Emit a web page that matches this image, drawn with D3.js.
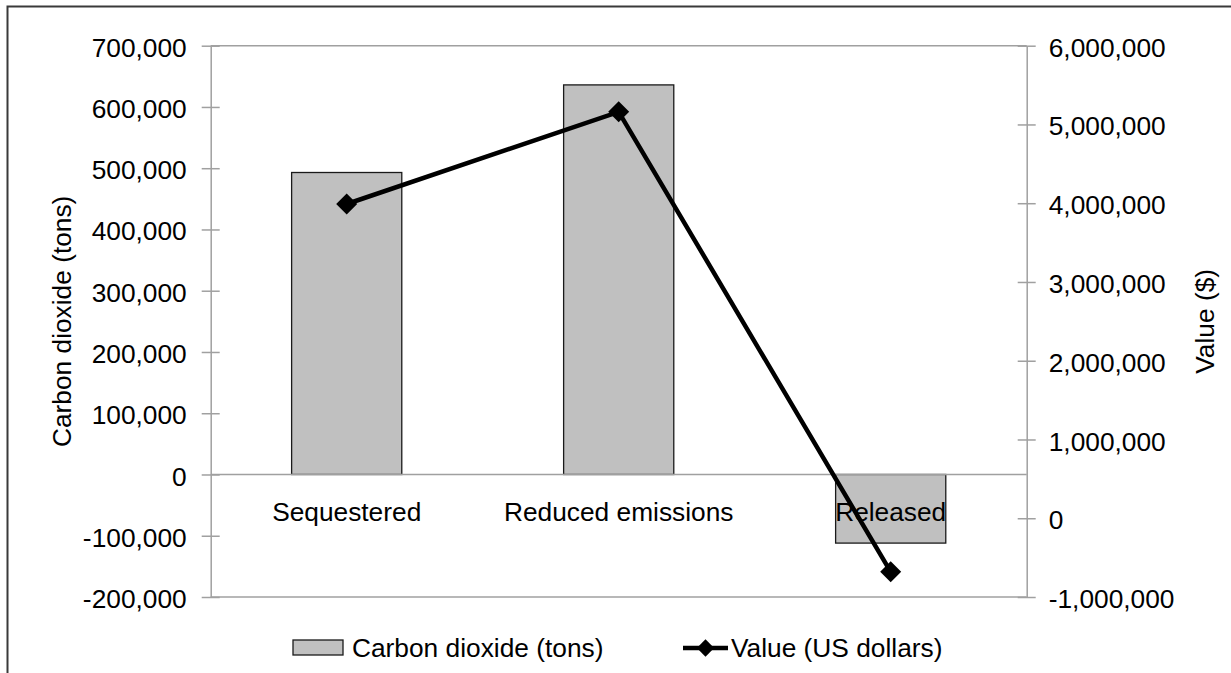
<!DOCTYPE html>
<html>
<head>
<meta charset="utf-8">
<script src="https://cdn.jsdelivr.net/npm/d3@7"></script>
<style>
  html, body { margin: 0; padding: 0; background: #fff; }
  svg { display: block; font-family: "Liberation Sans", Arial, sans-serif; }
</style>
</head>
<body>
<svg id="chart" width="1231" height="673"></svg>
<script>
const categories = ["Sequestered", "Reduced emissions", "Released"];
const co2Tons = [493000, 636000, -112000];
const valueUSD = [3990000, 5160000, -680000];
const leftTicks = [700000, 600000, 500000, 400000, 300000, 200000, 100000, 0, -100000, -200000];
const rightTicks = [6000000, 5000000, 4000000, 3000000, 2000000, 1000000, 0, -1000000];
const seriesNames = ["Carbon dioxide (tons)", "Value (US dollars)"];
const leftTitle = "Carbon dioxide (tons)";
const rightTitle = "Value ($)";

const svg = d3.select("#chart");
const W = 1231, H = 673;
const plot = { left: 210.7, right: 1026.7, top: 45.7, bottom: 597 };
const axisColor = "#a0a0a0";
const fontSize = 26.3;
const fmt0 = d3.format(",");
const fmt = v => fmt0(v).replace("\u2212", "-");

// outer frame
svg.append("rect").attr("x", 7.5).attr("y", 6.5).attr("width", W + 20).attr("height", H + 20)
  .attr("fill", "none").attr("stroke", "#3a3a3a").attr("stroke-width", 2);

const x = d3.scaleBand().domain(categories).range([plot.left, plot.right]).padding(0);
const yL = d3.scaleLinear().domain([-200000, 700000]).range([plot.bottom, plot.top]);
const yR = d3.scaleLinear().domain([-1000000, 6000000]).range([plot.bottom, plot.top]);
const barW = x.bandwidth() * 0.405;

const g = svg.append("g");
g.append("line").attr("x1", plot.left).attr("x2", plot.right).attr("y1", plot.top).attr("y2", plot.top)
  .attr("stroke", axisColor).attr("stroke-width", 1.5);
g.append("line").attr("x1", plot.left).attr("x2", plot.right).attr("y1", plot.bottom).attr("y2", plot.bottom)
  .attr("stroke", axisColor).attr("stroke-width", 1.5);

// bars
g.selectAll("rect.bar").data(categories).join("rect").attr("class", "bar")
  .attr("x", d => x(d) + x.bandwidth() / 2 - barW / 2)
  .attr("width", barW)
  .attr("y", (d, i) => yL(Math.max(0, co2Tons[i])))
  .attr("height", (d, i) => Math.abs(yL(co2Tons[i]) - yL(0)))
  .attr("fill", "#c0c0c0").attr("stroke", "#1a1a1a").attr("stroke-width", 1.3);

// zero (category) line
g.append("line").attr("x1", plot.left).attr("x2", plot.right).attr("y1", yL(0)).attr("y2", yL(0))
  .attr("stroke", axisColor).attr("stroke-width", 1.5);

// category labels
g.selectAll("text.cat").data(categories).join("text").attr("class", "cat")
  .attr("x", d => x(d) + x.bandwidth() / 2).attr("y", 521)
  .attr("text-anchor", "middle").attr("font-size", fontSize).attr("fill", "#000").text(d => d);

// left axis
const axL = d3.axisLeft(yL).tickValues(leftTicks).tickFormat(fmt).tickSizeInner(9).tickSizeOuter(0).tickPadding(16);
const gL = svg.append("g").attr("transform", `translate(${plot.left},0)`).call(axL);
gL.select(".domain").attr("stroke", axisColor).attr("stroke-width", 1.5);
gL.selectAll(".tick line").attr("stroke", axisColor).attr("stroke-width", 1.5).attr("x1", 9);
gL.selectAll(".tick text").attr("font-size", fontSize).attr("font-family", "Liberation Sans, Arial, sans-serif")
  .attr("fill", "#000").attr("dy", "0.4em").attr("x", -24);

// right axis
const axR = d3.axisRight(yR).tickValues(rightTicks).tickFormat(fmt).tickSizeInner(9).tickSizeOuter(0).tickPadding(16);
const gR = svg.append("g").attr("transform", `translate(${plot.right},0)`).call(axR);
gR.select(".domain").attr("stroke", axisColor).attr("stroke-width", 1.5);
gR.selectAll(".tick line").attr("stroke", axisColor).attr("stroke-width", 1.5).attr("x1", -9);
gR.selectAll(".tick text").attr("font-size", fontSize).attr("font-family", "Liberation Sans, Arial, sans-serif")
  .attr("fill", "#000").attr("dy", "0.4em").attr("x", 22);

// axis titles
const midY = (plot.top + plot.bottom) / 2;
svg.append("text").attr("transform", `translate(71,${midY}) rotate(-90)`)
  .attr("text-anchor", "middle").attr("font-size", fontSize).attr("fill", "#000").text(leftTitle);
svg.append("text").attr("transform", `translate(1214,${midY}) rotate(-90)`)
  .attr("text-anchor", "middle").attr("font-size", fontSize).attr("fill", "#000").text(rightTitle);

// line series
const line = d3.line().x((d, i) => x(categories[i]) + x.bandwidth() / 2).y(d => yR(d));
g.append("path").datum(valueUSD).attr("d", line).attr("fill", "none")
  .attr("stroke", "#000").attr("stroke-width", 4.5).attr("stroke-linejoin", "miter");
const diamond = d3.symbol().type(d3.symbolSquare).size(220);
g.selectAll("path.mk").data(valueUSD).join("path").attr("class", "mk")
  .attr("d", diamond)
  .attr("transform", (d, i) => `translate(${x(categories[i]) + x.bandwidth() / 2},${yR(d)}) rotate(45)`)
  .attr("fill", "#000");

// legend
const leg = svg.append("g");
leg.append("rect").attr("x", 293).attr("y", 640).attr("width", 50).attr("height", 15)
  .attr("fill", "#c0c0c0").attr("stroke", "#1a1a1a").attr("stroke-width", 1.3);
leg.append("text").attr("x", 352).attr("y", 657).attr("font-size", fontSize).attr("fill", "#000").text(seriesNames[0]);
leg.append("line").attr("x1", 683).attr("x2", 728).attr("y1", 648).attr("y2", 648)
  .attr("stroke", "#000").attr("stroke-width", 4.5);
leg.append("path").attr("d", d3.symbol().type(d3.symbolSquare).size(150))
  .attr("transform", "translate(705.5,648) rotate(45)").attr("fill", "#000");
leg.append("text").attr("x", 731).attr("y", 657).attr("font-size", fontSize).attr("fill", "#000").text(seriesNames[1]);
</script>
</body>
</html>
